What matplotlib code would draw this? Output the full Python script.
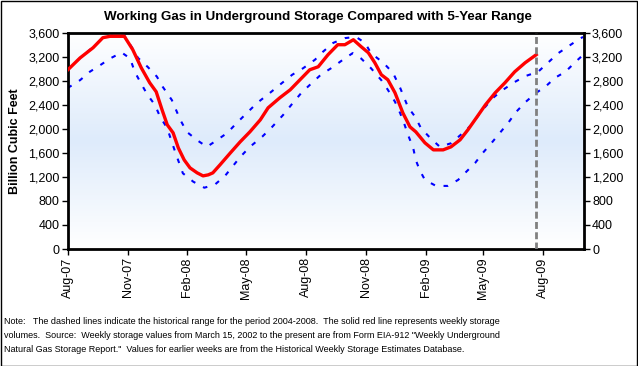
import matplotlib
matplotlib.use("Agg")
import matplotlib.pyplot as plt
import matplotlib.dates as mdates
import matplotlib.ticker as mticker
import numpy as np
import pandas as pd

# weekly working gas in storage (Bcf)
storage_dates = [
    "2007-08-01", "2007-08-20", "2007-09-09", "2007-09-24", "2007-10-05", "2007-10-27",
    "2007-11-09", "2007-11-22", "2007-12-05", "2007-12-15", "2007-12-24", "2008-01-01",
    "2008-01-10", "2008-01-18", "2008-01-27", "2008-02-05", "2008-02-16", "2008-02-25",
    "2008-03-04", "2008-03-11", "2008-03-22", "2008-04-07", "2008-04-22", "2008-05-07",
    "2008-05-23", "2008-06-04", "2008-06-22", "2008-07-08", "2008-07-23", "2008-08-07",
    "2008-08-20", "2008-09-04", "2008-09-19", "2008-09-30", "2008-10-13", "2008-10-25",
    "2008-11-05", "2008-11-15", "2008-11-25", "2008-12-05", "2008-12-16", "2008-12-28",
    "2009-01-08", "2009-01-17", "2009-01-31", "2009-02-13", "2009-02-28", "2009-03-12",
    "2009-03-26", "2009-04-07", "2009-04-20", "2009-05-04", "2009-05-19", "2009-06-03",
    "2009-06-18", "2009-07-04", "2009-07-21",
]
storage = [
    2980, 3180, 3350, 3517, 3540, 3540,
    3317, 3017, 2767, 2617, 2317, 2067,
    1933, 1683, 1483, 1350, 1267, 1217,
    1234, 1267, 1400, 1600, 1783, 1950,
    2150, 2350, 2517, 2650, 2817, 2983,
    3033, 3233, 3400, 3400, 3483, 3367,
    3267, 3100, 2900, 2817, 2600, 2267,
    2033, 1950, 1767, 1650, 1650, 1700,
    1817, 1983, 2183, 2400, 2600, 2767,
    2950, 3100, 3233,
]

# 5-year range (2004-2008), upper bound
upper_dates = [
    "2007-08-01", "2007-08-20", "2007-09-09", "2007-09-24", "2007-10-08", "2007-10-27",
    "2007-11-08", "2007-11-17", "2007-12-02", "2007-12-16", "2007-12-25", "2008-01-08",
    "2008-01-21", "2008-01-31", "2008-02-16", "2008-03-02", "2008-03-17", "2008-04-02",
    "2008-04-17", "2008-05-02", "2008-05-18", "2008-06-07", "2008-06-25", "2008-07-11",
    "2008-07-28", "2008-08-15", "2008-08-27", "2008-09-12", "2008-09-30", "2008-10-17",
    "2008-10-31", "2008-11-09", "2008-11-28", "2008-12-13", "2008-12-24", "2009-01-05",
    "2009-01-16", "2009-01-25", "2009-02-08", "2009-02-23", "2009-03-12", "2009-03-27",
    "2009-04-12", "2009-04-27", "2009-05-15", "2009-05-31", "2009-06-18", "2009-07-05",
    "2009-07-24", "2009-08-08", "2009-08-24", "2009-09-08", "2009-09-23", "2009-10-01",
]
upper = [
    2980, 3180, 3360, 3510, 3550, 3550,
    3350, 3180, 3030, 2870, 2700, 2480,
    2150, 1950, 1810, 1700, 1810, 1930,
    2100, 2260, 2430, 2600, 2760, 2900,
    3010, 3150, 3280, 3430, 3510, 3530,
    3430, 3260, 3100, 2930, 2680, 2360,
    2200, 2010, 1850, 1700, 1760, 1900,
    2060, 2280, 2510, 2650, 2780, 2880,
    2950, 3100, 3260, 3370, 3480, 3530,
]

# 5-year range (2004-2008), lower bound
lower_dates = [
    "2007-08-01", "2007-08-20", "2007-09-04", "2007-09-20", "2007-10-05", "2007-10-23",
    "2007-11-05", "2007-11-12", "2007-11-23", "2007-12-02", "2007-12-13", "2007-12-21",
    "2008-01-01", "2008-01-08", "2008-01-16", "2008-01-25", "2008-02-10", "2008-02-27",
    "2008-03-14", "2008-03-30", "2008-04-22", "2008-05-07", "2008-05-26", "2008-06-10",
    "2008-06-27", "2008-07-12", "2008-07-26", "2008-08-10", "2008-08-24", "2008-09-09",
    "2008-09-27", "2008-10-12", "2008-10-25", "2008-11-09", "2008-11-25", "2008-12-05",
    "2008-12-16", "2008-12-24", "2008-12-31", "2009-01-05", "2009-01-13", "2009-01-17",
    "2009-01-23", "2009-01-31", "2009-02-17", "2009-03-07", "2009-03-23", "2009-04-04",
    "2009-04-18", "2009-04-30", "2009-05-13", "2009-05-26", "2009-06-08", "2009-06-20",
    "2009-07-05", "2009-07-21", "2009-08-04", "2009-08-19", "2009-09-04", "2009-09-19",
    "2009-10-01",
]
lower = [
    2680, 2810, 2950, 3060, 3170, 3270,
    3170, 2950, 2730, 2560, 2400, 2200,
    2010, 1780, 1530, 1260, 1120, 1020,
    1070, 1220, 1530, 1700, 1870, 2030,
    2230, 2430, 2610, 2760, 2900, 3010,
    3150, 3260, 3170, 3010, 2810, 2650,
    2450, 2260, 2060, 1900, 1680, 1480,
    1310, 1150, 1050, 1050, 1150, 1280,
    1430, 1600, 1760, 1930, 2100, 2280,
    2450, 2600, 2700, 2850, 2950, 3110,
    3230,
]

x_start, x_end = "2007-08-01", "2009-10-02"
y_ticks = list(range(0, 3601, 400))

title = "Working Gas in Underground Storage Compared with 5-Year Range"
note_lines = [
    "Note:   The dashed lines indicate the historical range for the period 2004-2008.  "
    "The solid red line represents weekly storage",
    "volumes.  Source:  Weekly storage values from March 15, 2002 to the present are from "
    "Form EIA-912 \"Weekly Underground",
    "Natural Gas Storage Report.\"  Values for earlier weeks are from the Historical Weekly "
    "Storage Estimates Database.",
]

plt.rcParams["font.family"] = ["Liberation Sans", "DejaVu Sans"]

W, H = 638, 366
fig = plt.figure(figsize=(W / 100, H / 100), dpi=100)
ax = fig.add_axes([67.7 / W, 1 - 249 / H, (583.7 - 67.7) / W, (249 - 32.7) / H])

xmin, xmax = mdates.date2num(pd.Timestamp(x_start)), mdates.date2num(pd.Timestamp(x_end))

# white -> light blue -> white gradient in the plot area (top row first)
t = np.linspace(0, 1, 256)
blend = np.interp(t, [0, 0.5, 1], [0.0, 1.0, 0.0])[:, None, None]
mid_rgb = np.array([222, 235, 251]) / 255
img = np.ones(3) * (1 - blend) + mid_rgb * blend
ax.imshow(img, extent=[xmin, xmax, 0, 3600], aspect="auto", origin="upper", zorder=0)
ax.set_xlim(xmin, xmax)
ax.set_ylim(0, 3600)

dash = (0, (2.2, 4.2))
ax.plot(pd.to_datetime(upper_dates), upper, color="#0000ff", lw=1.5, linestyle=dash, zorder=2)
ax.plot(pd.to_datetime(lower_dates), lower, color="#0000ff", lw=1.5, linestyle=dash, zorder=2)
ax.plot(pd.to_datetime(storage_dates), storage, color="#ff0000", lw=2.4,
        solid_joinstyle="round", zorder=3)
ax.axvline(pd.Timestamp(storage_dates[-1]), color="#808080", lw=2,
           linestyle=(0, (2.5, 1.2)), zorder=4)

ax.xaxis.set_major_locator(mdates.MonthLocator(bymonth=[2, 5, 8, 11]))
ax.xaxis.set_major_formatter(mdates.DateFormatter("%b-%y"))
ax.set_yticks(y_ticks)
ax.yaxis.set_major_formatter(mticker.StrMethodFormatter("{x:,.0f}"))
ax.tick_params(axis="x", direction="out", length=4, width=1, labelsize=9,
               labelrotation=90, pad=2)
ax.tick_params(axis="y", direction="out", length=4, width=1, labelsize=9, pad=2,
               labelright=True, right=True)
for s in ax.spines.values():
    s.set_linewidth(2)
    s.set_color("black")

ax.set_ylabel("Billion Cubic Feet", fontsize=9, fontweight="bold", labelpad=5)
fig.text(318 / W, 1 - 17 / H, title, ha="center", va="center",
         fontsize=9.6, fontweight="bold")

for i, line in enumerate(note_lines):
    fig.text(4 / W, 1 - (322 + 14 * i) / H, line, ha="left", va="center", fontsize=6.5)

fig.patches.append(plt.Rectangle((0.5 / W, 0.5 / H), 1 - 1.5 / W, 1 - 1.5 / H,
                                 transform=fig.transFigure, fill=False,
                                 edgecolor="black", lw=1))

fig.savefig("out.png", dpi=100)
